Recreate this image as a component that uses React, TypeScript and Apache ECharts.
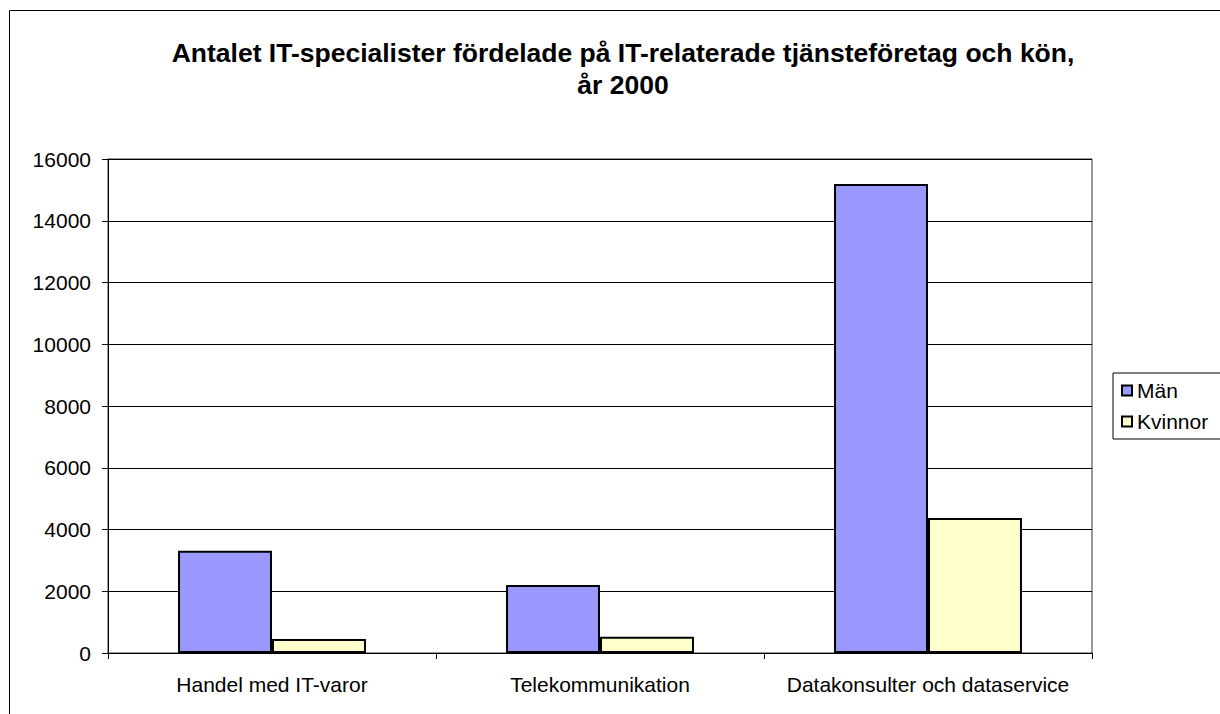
import React, { useEffect, useRef } from "react";
import * as echarts from "echarts";

const titleLines = [
  "Antalet IT-specialister fördelade på IT-relaterade tjänsteföretag och kön,",
  "år 2000",
];
const categories = ["Handel med IT-varor", "Telekommunikation", "Datakonsulter och dataservice"];
const seriesNames = ["Män", "Kvinnor"];
const manValues = [3310, 2200, 15190];
const kvinnorValues = [450, 530, 4370];
const colors = ["#9999FF", "#FFFFCC"];

const FONT = "'Liberation Sans', Arial, sans-serif";

export default function App() {
  const ref = useRef<HTMLDivElement>(null);
  useEffect(() => {
    if (!ref.current) return;
    const chart = echarts.init(ref.current, null, { renderer: "svg" });
    chart.setOption({
      animation: false,
      backgroundColor: "#ffffff",
      textStyle: { fontFamily: FONT },
      title: {
        text: titleLines.join("\n"),
        left: 618,
        textAlign: "center",
        top: 32,
        textStyle: {
          fontFamily: FONT,
          fontSize: 26.5,
          fontWeight: "bold",
          color: "#000",
          lineHeight: 32,
        },
      },
      graphic: [
        {
          type: "rect",
          shape: { x: 9.5, y: 10.5, width: 1400, height: 900 },
          style: { fill: "none", stroke: "#000", lineWidth: 1 },
          silent: true,
        },
      ],
      legend: {
        orient: "vertical",
        left: 1113,
        top: 373,
        data: seriesNames,
        icon: "rect",
        itemWidth: 10,
        itemHeight: 10,
        itemGap: 10,
        borderColor: "#000",
        borderWidth: 1,
        padding: [7, 40, 7, 8],
        textStyle: { fontFamily: FONT, fontSize: 21, color: "#000", lineHeight: 21 },
      },
      grid: {
        left: 108,
        top: 159,
        right: 128,
        bottom: 61,
        show: true,
        borderColor: "#333",
        borderWidth: 1,
        backgroundColor: "#fff",
      },
      xAxis: {
        type: "category",
        data: categories,
        axisLine: { show: true, lineStyle: { color: "#000", width: 1 } },
        axisTick: { show: true, length: 6, interval: 0, lineStyle: { color: "#000" } },
        axisLabel: { fontFamily: FONT, fontSize: 21, color: "#000", margin: 21, interval: 0 },
      },
      yAxis: {
        type: "value",
        min: 0,
        max: 16000,
        interval: 2000,
        axisLine: { show: true, lineStyle: { color: "#000", width: 1 } },
        axisTick: { show: true, length: 6, lineStyle: { color: "#000" } },
        axisLabel: {
          fontFamily: FONT,
          fontSize: 21,
          color: "#000",
          margin: 17,
          formatter: (v: number) => String(v),
        },
        splitLine: { show: true, lineStyle: { color: "#000", width: 1 } },
      },
      series: [
        {
          name: seriesNames[0],
          type: "bar",
          data: manValues,
          barGap: "0%",
          barCategoryGap: "42.7%",
          itemStyle: { color: colors[0], borderColor: "#000", borderWidth: 2 },
        },
        {
          name: seriesNames[1],
          type: "bar",
          data: kvinnorValues,
          barGap: "0%",
          barCategoryGap: "42.7%",
          itemStyle: { color: colors[1], borderColor: "#000", borderWidth: 2 },
        },
      ],
    });
    return () => chart.dispose();
  }, []);
  return (
    <div
      ref={ref}
      style={{ position: "fixed", left: 0, top: 0, width: 1220, height: 714 }}
    />
  );
}
